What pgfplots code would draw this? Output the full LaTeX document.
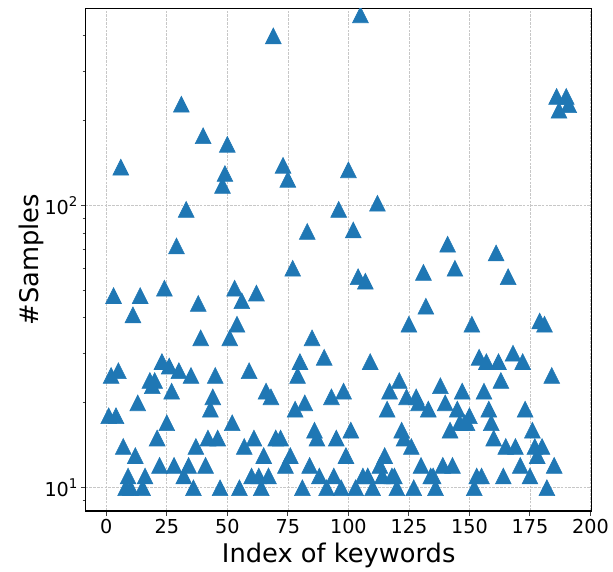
\documentclass[border=0pt]{standalone}
\usepackage{pgfplots}
\pgfplotsset{compat=1.18}
\usepackage{pgfplotstable}
\usepackage{fontspec}
\setmainfont{DejaVu Sans}
\definecolor{mplblue}{RGB}{31,119,180}
\pgfdeclareplotmark{mtri}{%
  \pgfpathmoveto{\pgfqpoint{0pt}{\pgfplotmarksize}}%
  \pgfpathlineto{\pgfqpoint{-\pgfplotmarksize}{-\pgfplotmarksize}}%
  \pgfpathlineto{\pgfqpoint{\pgfplotmarksize}{-\pgfplotmarksize}}%
  \pgfpathclose
  \pgfusepathqfillstroke}
\pgfplotstableread{
x y
1 18
2 25
3 48
4 18
5 26
6 137
7 14
8 10
9 11
10 10
11 41
12 13
13 20
14 48
15 10
16 11
18 24
19 23
20 24
21 15
22 12
23 28
24 51
25 17
26 27
27 22
28 12
29 72
30 26
31 229
32 11
33 97
34 12
35 25
36 10
37 14
38 45
39 34
40 177
41 12
42 15
43 19
44 21
45 25
46 15
47 10
48 118
49 130
50 165
51 34
52 17
53 51
54 38
55 10
56 46
57 14
59 26
60 11
61 15
62 49
63 11
64 10
65 13
66 22
67 11
68 21
69 400
70 15
72 15
73 139
74 12
75 124
76 13
77 60
78 19
79 25
80 28
81 10
82 20
83 81
84 12
85 34
86 16
87 15
88 11
90 29
91 10
93 21
94 11
95 15
96 97
97 10
98 22
99 13
100 134
101 16
102 82
103 10
104 56
105 475
106 11
107 54
108 11
109 28
110 10
112 102
113 12
114 11
115 13
116 19
117 22
118 11
119 11
120 10
121 24
122 16
123 15
124 21
125 38
126 14
127 10
128 21
129 20
130 12
131 58
132 44
133 19
134 11
135 11
136 10
138 23
139 12
140 20
141 73
142 16
143 12
144 60
145 19
146 17
147 22
148 17
149 17
150 18
151 38
152 10
153 11
154 29
155 11
156 22
157 28
158 19
159 17
160 15
161 68
162 28
163 24
164 11
165 14
166 56
168 30
169 14
171 12
172 28
173 19
175 11
176 16
177 14
178 13
179 39
180 14
181 38
182 10
184 25
185 12
186 244
187 218
190 244
191 228
}\datatable
\begin{document}
\begin{tikzpicture}
\begin{axis}[
  scale only axis,
  width=506pt, height=502.7pt,
  ymode=log,
  xmin=-8.5, xmax=200.5,
  ymin=8.27, ymax=501,
  xtick={0,25,...,200},
  ytick={10,100},
  yticklabels={10\raisebox{0.42em}{\fontsize{13.4}{14}\selectfont 1},10\raisebox{0.42em}{\fontsize{13.4}{14}\selectfont 2}},
  minor ytick={9,20,30,40,50,60,70,80,90,200,300,400},
  xtick pos=bottom, ytick pos=left,
  tick align=outside,
  major tick length=4.7pt,
  minor tick length=3pt,
  every tick/.style={black!75, line width=1pt},
  axis line style={black, line width=1.1pt},
  grid=major,
  major grid style={dashed, dash pattern=on 2.6pt off 1.2pt, black!22, line width=0.7pt},
  minor grid style={draw=none},
  /pgf/number format/assume math mode=true,
  ticklabel style={font=\fontsize{19.2}{22}\selectfont},
  label style={font=\fontsize{25.7}{30}\selectfont},
  xlabel={Index of keywords},
  ylabel={\#Samples},
  ylabel style={yshift=-6pt},
  xlabel style={yshift=-2pt},
  clip marker paths=true,
]
\addplot[only marks, mark=mtri, mark size=7.9pt, mplblue, line width=0.6pt] table[x=x,y=y] {\datatable};
\end{axis}
\pgfresetboundingbox
\path ([shift={(-85.7pt,-61pt)}]current axis.south west) rectangle ([shift={(21.3pt,8.3pt)}]current axis.north east);
\end{tikzpicture}
\end{document}
